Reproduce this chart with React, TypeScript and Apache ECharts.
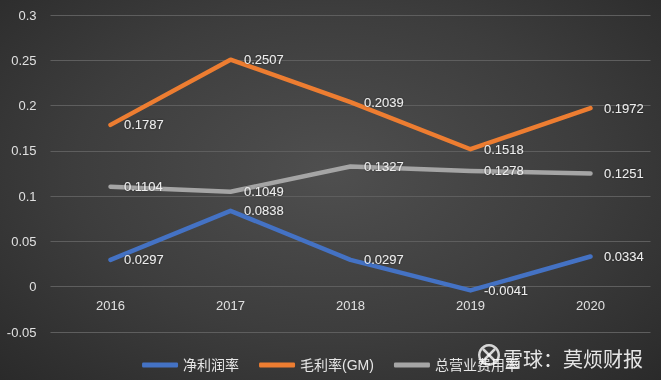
import React, { useEffect, useRef } from "react";
import * as echarts from "echarts";

const years = ["2016", "2017", "2018", "2019", "2020"];
const netMargin = [0.0297, 0.0838, 0.0297, -0.0041, 0.0334];
const grossMargin = [0.1787, 0.2507, 0.2039, 0.1518, 0.1972];
const opexRatio = [0.1104, 0.1049, 0.1327, 0.1278, 0.1251];
const seriesNames = ["净利润率", "毛利率(GM)", "总营业费用率"];
const seriesColors = ["#4472C4", "#ED7D31", "#A5A5A5"];

const FONT = "'Liberation Sans', 'Noto Sans CJK SC', sans-serif";

export default function App() {
  const ref = useRef<HTMLDivElement>(null);
  useEffect(() => {
    document.body.style.margin = "0";
    const chart = echarts.init(ref.current!, null, { renderer: "svg" });
    const datasets = [netMargin, grossMargin, opexRatio];
    const gridTop = 15;
    const gridBottom = 48;
    const plotH = 380 - gridTop - gridBottom;
    const yMin = -0.05;
    const yMax = 0.3;
    const zeroOffset = (plotH * (0 - yMin)) / (yMax - yMin);
    chart.setOption({
      animation: false,
      backgroundColor: "transparent",
      textStyle: { fontFamily: FONT },
      grid: { left: 50.5, right: 10.5, top: gridTop, bottom: gridBottom, containLabel: false },
      legend: {
        bottom: 3,
        left: "center",
        icon: "roundRect",
        itemWidth: 36,
        itemHeight: 5,
        itemGap: 20,
        textStyle: { color: "#e6e6e6", fontSize: 14, fontFamily: FONT },
        data: seriesNames,
      },
      xAxis: {
        type: "category",
        data: years,
        boundaryGap: true,
        offset: -zeroOffset,
        axisLine: { show: false, onZero: false },
        axisTick: { show: false },
        axisLabel: { color: "#e0e0e0", fontSize: 13, margin: 12, fontFamily: FONT },
      },
      yAxis: {
        type: "value",
        min: yMin,
        max: yMax,
        interval: 0.05,
        axisLine: { show: false },
        axisTick: { show: false },
        axisLabel: {
          color: "#e0e0e0",
          fontSize: 13,
          margin: 14,
          fontFamily: FONT,
          formatter: (v: number) => String(parseFloat(v.toFixed(2))),
        },
        splitLine: { lineStyle: { color: "#5e5e5e", width: 1 } },
      },
      series: datasets.map((d, i) => ({
        name: seriesNames[i],
        type: "line",
        data: d,
        showSymbol: true,
        symbol: "circle",
        symbolSize: 1,
        itemStyle: { color: seriesColors[i] },
        lineStyle: { color: seriesColors[i], width: 4.5, cap: "round", join: "round" },
        label: {
          show: true,
          position: "right",
          distance: 13,
          color: "#ececec",
          fontSize: 13,
          fontFamily: FONT,
          textShadowColor: "rgba(0,0,0,0.5)",
          textShadowBlur: 2,
          formatter: (p: any) => String(p.value),
        },
        emphasis: { disabled: true },
      })),
      graphic: [
        {
          type: "ring",
          shape: { cx: 489, cy: 355, r: 11, r0: 8.5 },
          style: { fill: "rgba(255,255,255,0.8)" },
          z: 100,
        },
        {
          type: "line",
          shape: { x1: 483, y1: 349, x2: 495, y2: 361 },
          style: { stroke: "rgba(255,255,255,0.8)", lineWidth: 2.5 },
          z: 100,
        },
        {
          type: "line",
          shape: { x1: 495, y1: 349, x2: 483, y2: 361 },
          style: { stroke: "rgba(255,255,255,0.8)", lineWidth: 2.5 },
          z: 100,
        },
        {
          type: "text",
          x: 503,
          y: 358,
          style: {
            text: "雪球：莫烦财报",
            fill: "rgba(255,255,255,0.88)",
            font: "20px 'Noto Sans CJK SC', sans-serif",
            textVerticalAlign: "middle",
            shadowColor: "rgba(0,0,0,0.6)",
            shadowBlur: 3,
          },
          z: 100,
        },
      ],
    });
    return () => chart.dispose();
  }, []);
  return (
    <div
      ref={ref}
      style={{
        position: "fixed",
        left: 0,
        top: 0,
        width: 661,
        height: 380,
        background: "radial-gradient(ellipse at 50% 45%, #4f4f4f 0%, #3d3d3d 55%, #2a2a2a 100%)",
      }}
    />
  );
}
